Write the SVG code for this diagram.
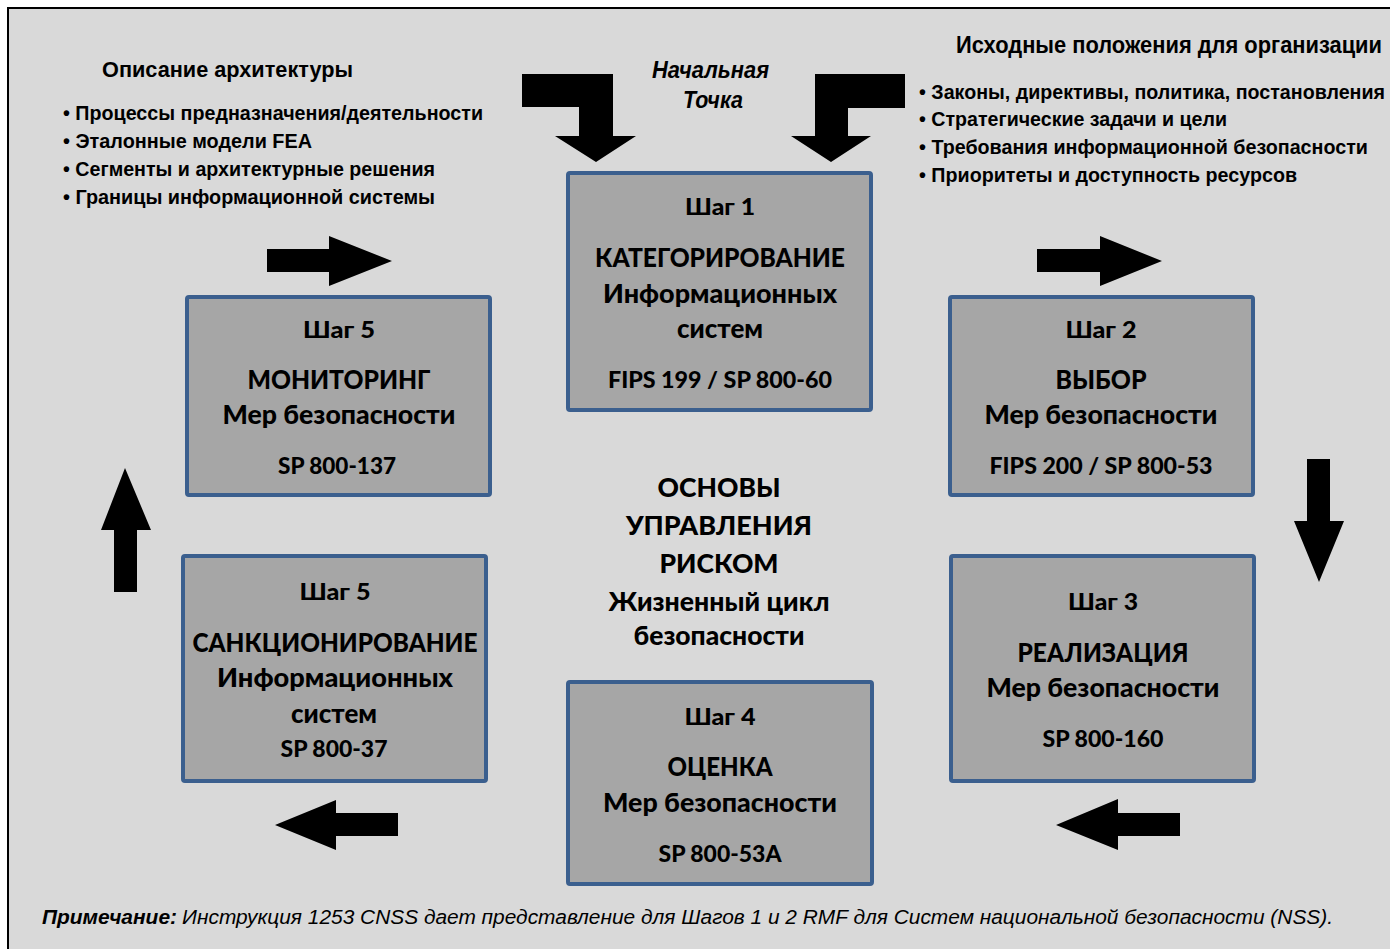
<svg xmlns="http://www.w3.org/2000/svg" width="1390" height="949" viewBox="0 0 1390 949">
<style>
.box{fill:#a6a6a6;stroke:#3b5f8e;stroke-width:4}
.bt{font-family:Lato,"Open Sans","Noto Sans",sans-serif;font-weight:900;fill:#000;text-anchor:middle}
.s{font-size:22px}
.t{font-size:26px}
.r{font-size:23px}
.c{font-size:27px}
.ar{font-family:"Liberation Sans",Arial,sans-serif;font-weight:700;fill:#000}
.it{font-family:"Liberation Sans",Arial,sans-serif;font-style:italic;fill:#000;font-size:20px}
.arrow{fill:#000}
</style>
<rect x="0" y="0" width="1390" height="949" fill="#ffffff"/>
<rect x="8" y="8" width="1400" height="960" fill="#d9d9d9" stroke="#000" stroke-width="2"/>

<g id="left-info">
<text class="ar" x="102" y="77" font-size="22.5" textLength="251" lengthAdjust="spacingAndGlyphs">Описание архитектуры</text>
<text class="ar" x="63" y="120" font-size="21" textLength="420" lengthAdjust="spacingAndGlyphs">• Процессы предназначения/деятельности</text>
<text class="ar" x="63" y="148" font-size="21" textLength="249" lengthAdjust="spacingAndGlyphs">• Эталонные модели FEA</text>
<text class="ar" x="63" y="176" font-size="21" textLength="372" lengthAdjust="spacingAndGlyphs">• Сегменты и архитектурные решения</text>
<text class="ar" x="63" y="204" font-size="21" textLength="372" lengthAdjust="spacingAndGlyphs">• Границы информационной системы</text>
</g>

<g id="right-info">
<text class="ar" x="956" y="53" font-size="23.5" textLength="426" lengthAdjust="spacingAndGlyphs">Исходные положения для организации</text>
<text class="ar" x="919" y="99" font-size="21" textLength="466" lengthAdjust="spacingAndGlyphs">• Законы, директивы, политика, постановления</text>
<text class="ar" x="919" y="126" font-size="21" textLength="308" lengthAdjust="spacingAndGlyphs">• Стратегические задачи и цели</text>
<text class="ar" x="919" y="154" font-size="21" textLength="449" lengthAdjust="spacingAndGlyphs">• Требования информационной безопасности</text>
<text class="ar" x="919" y="182" font-size="21" textLength="378" lengthAdjust="spacingAndGlyphs">• Приоритеты и доступность ресурсов</text>
</g>

<g id="start-point">
<text class="ar" x="652" y="78" font-size="23.5" font-style="italic" textLength="117" lengthAdjust="spacingAndGlyphs">Начальная</text>
<text class="ar" x="683" y="108" font-size="23.5" font-style="italic" textLength="60" lengthAdjust="spacingAndGlyphs">Точка</text>
</g>

<g id="connectors">
<polygon class="arrow" points="522,74 613,74 613,136 636,136 596,162 555,136 579,136 579,107 522,107"/>
<polygon class="arrow" points="905,74 815,74 815,136 791,136 831,162 871,136 848,136 848,108 905,108"/>
<polygon class="arrow" points="267,249 329,249 329,236 392,261 329,286 329,272 267,272"/>
<polygon class="arrow" points="1037,249 1100,249 1100,236 1162,261 1100,286 1100,272 1037,272"/>
<polygon class="arrow" points="1307,459 1330,459 1330,521 1344,521 1319,582 1294,521 1307,521"/>
<polygon class="arrow" points="114,592 137,592 137,530 151,530 125,468 101,530 114,530"/>
<polygon class="arrow" points="398,813 336,813 336,800 275,825 336,850 336,836 398,836"/>
<polygon class="arrow" points="1180,813 1118,813 1118,799 1056,825 1118,850 1118,836 1180,836"/>
</g>

<g id="step1">
<rect class="box" x="568" y="173" width="303" height="237" rx="2"/>
<text class="bt s" x="720" y="215" textLength="70" lengthAdjust="spacingAndGlyphs">Шаг 1</text>
<text class="bt t" x="720" y="267" textLength="250" lengthAdjust="spacingAndGlyphs">КАТЕГОРИРОВАНИЕ</text>
<text class="bt t" x="720" y="303" textLength="234" lengthAdjust="spacingAndGlyphs">Информационных</text>
<text class="bt t" x="720" y="338" textLength="86" lengthAdjust="spacingAndGlyphs">систем</text>
<text class="bt r" x="720" y="388" textLength="224" lengthAdjust="spacingAndGlyphs">FIPS 199 / SP 800-60</text>
</g>

<g id="step5-monitoring">
<rect class="box" x="187" y="297" width="303" height="198" rx="2"/>
<text class="bt s" x="339" y="338" textLength="72" lengthAdjust="spacingAndGlyphs">Шаг 5</text>
<text class="bt t" x="339" y="389" textLength="183" lengthAdjust="spacingAndGlyphs">МОНИТОРИНГ</text>
<text class="bt t" x="339" y="424" textLength="233" lengthAdjust="spacingAndGlyphs">Мер безопасности</text>
<text class="bt r" x="337" y="474" textLength="118" lengthAdjust="spacingAndGlyphs">SP 800-137</text>
</g>

<g id="step2">
<rect class="box" x="950" y="297" width="303" height="198" rx="2"/>
<text class="bt s" x="1101" y="338" textLength="71" lengthAdjust="spacingAndGlyphs">Шаг 2</text>
<text class="bt t" x="1101" y="389" textLength="91" lengthAdjust="spacingAndGlyphs">ВЫБОР</text>
<text class="bt t" x="1101" y="424" textLength="233" lengthAdjust="spacingAndGlyphs">Мер безопасности</text>
<text class="bt r" x="1101" y="474" textLength="223" lengthAdjust="spacingAndGlyphs">FIPS 200 / SP 800-53</text>
</g>

<g id="step5-authorization">
<rect class="box" x="183" y="556" width="303" height="225" rx="2"/>
<text class="bt s" x="335" y="600" textLength="71" lengthAdjust="spacingAndGlyphs">Шаг 5</text>
<text class="bt t" x="335" y="652" textLength="285" lengthAdjust="spacingAndGlyphs">САНКЦИОНИРОВАНИЕ</text>
<text class="bt t" x="335" y="687" textLength="236" lengthAdjust="spacingAndGlyphs">Информационных</text>
<text class="bt t" x="334" y="723" textLength="86" lengthAdjust="spacingAndGlyphs">систем</text>
<text class="bt r" x="334" y="757" textLength="107" lengthAdjust="spacingAndGlyphs">SP 800-37</text>
</g>

<g id="step3">
<rect class="box" x="951" y="556" width="303" height="225" rx="2"/>
<text class="bt s" x="1103" y="610" textLength="70" lengthAdjust="spacingAndGlyphs">Шаг 3</text>
<text class="bt t" x="1103" y="662" textLength="171" lengthAdjust="spacingAndGlyphs">РЕАЛИЗАЦИЯ</text>
<text class="bt t" x="1103" y="697" textLength="233" lengthAdjust="spacingAndGlyphs">Мер безопасности</text>
<text class="bt r" x="1103" y="747" textLength="121" lengthAdjust="spacingAndGlyphs">SP 800-160</text>
</g>

<g id="step4">
<rect class="box" x="568" y="682" width="304" height="202" rx="2"/>
<text class="bt s" x="720" y="725" textLength="71" lengthAdjust="spacingAndGlyphs">Шаг 4</text>
<text class="bt t" x="720" y="776" textLength="105" lengthAdjust="spacingAndGlyphs">ОЦЕНКА</text>
<text class="bt t" x="720" y="812" textLength="234" lengthAdjust="spacingAndGlyphs">Мер безопасности</text>
<text class="bt r" x="720" y="862" textLength="123" lengthAdjust="spacingAndGlyphs">SP 800-53A</text>
</g>

<g id="center-title">
<text class="bt c" x="719" y="497" textLength="123" lengthAdjust="spacingAndGlyphs">ОСНОВЫ</text>
<text class="bt c" x="719" y="535" textLength="186" lengthAdjust="spacingAndGlyphs">УПРАВЛЕНИЯ</text>
<text class="bt c" x="719" y="573" textLength="119" lengthAdjust="spacingAndGlyphs">РИСКОМ</text>
<text class="bt t" x="719" y="611" textLength="221" lengthAdjust="spacingAndGlyphs">Жизненный цикл</text>
<text class="bt t" x="719" y="645" textLength="171" lengthAdjust="spacingAndGlyphs">безопасности</text>
</g>

<g id="note">
<text class="it" x="42" y="924" font-weight="700" textLength="135" lengthAdjust="spacingAndGlyphs">Примечание:</text>
<text class="it" x="182" y="924" textLength="1151" lengthAdjust="spacingAndGlyphs">Инструкция 1253 CNSS дает представление для Шагов 1 и 2 RMF для Систем национальной безопасности (NSS).</text>
</g>
</svg>
